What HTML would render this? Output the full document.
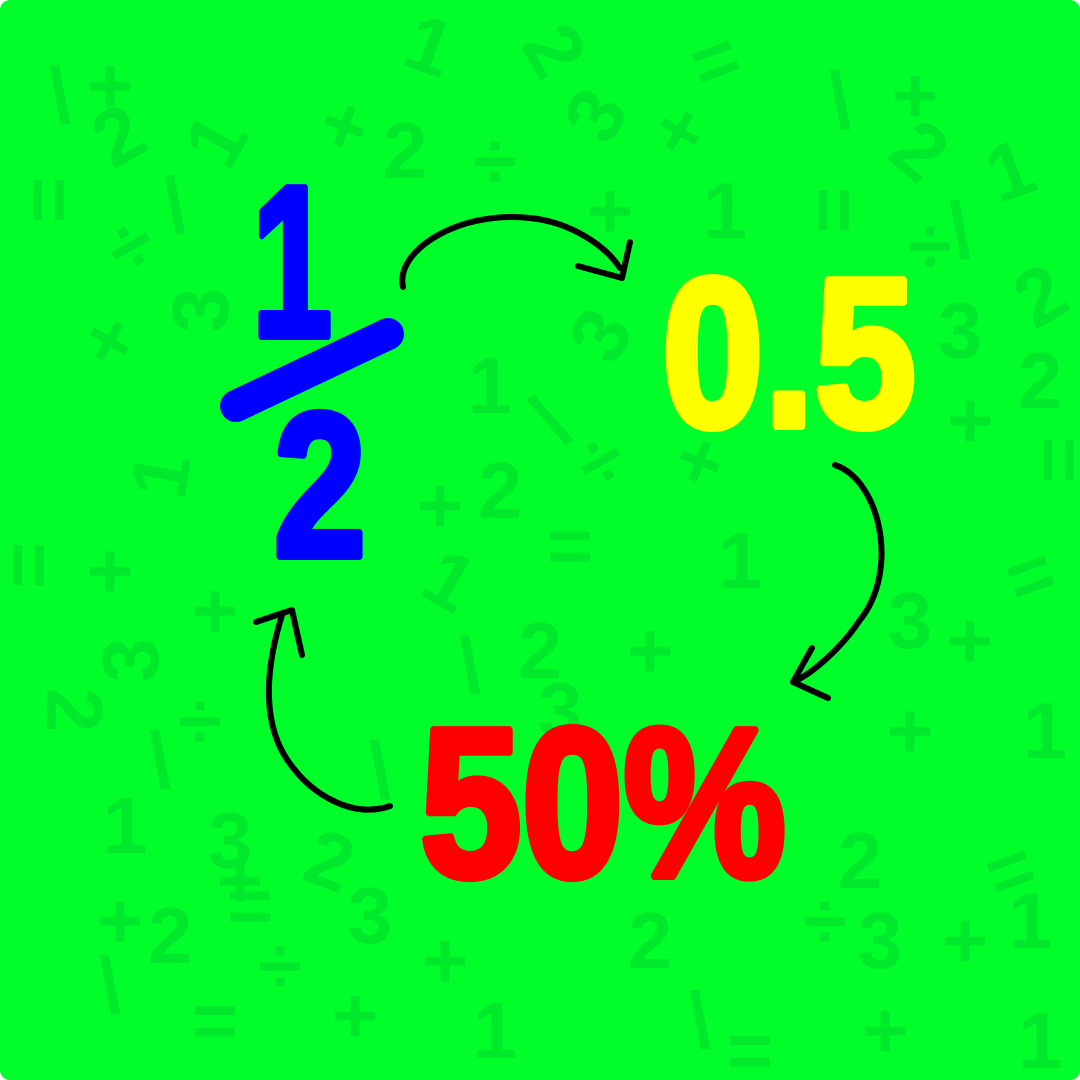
<!DOCTYPE html>
<html><head><meta charset="utf-8"><style>
html,body{margin:0;padding:0;background:#fff;}
svg{display:block;}
</style></head><body>
<svg width="1080" height="1080" viewBox="0 0 1080 1080">
<rect x="0" y="0" width="1080" height="1080" rx="10" fill="#00ff2a"/>
<g id="pattern" fill="#00e82c" font-family="Liberation Sans, sans-serif" font-weight="bold" text-anchor="middle"></g>
<g fill="none" stroke="#000" stroke-width="6" stroke-linecap="round" stroke-linejoin="round">
<path d="M403 287 C395 250 460 210 530 218 C570 222 605 245 620 268 M578 266 L622 278 L630 242"/>
<path d="M835 465 C880 480 900 570 860 620 C840 650 810 675 793 682 M828 698 L793 682 L812 648"/>
<path d="M390 806 C350 820 310 790 295 770 C260 730 265 670 282 615 M256 622 L292 610 L302 655"/>
</g>
<g fill="#0000ff" stroke="#0000ff" stroke-linejoin="round" stroke-width="8">
<text x="292" y="336" font-family="Liberation Sans, sans-serif" font-weight="bold" font-size="215" text-anchor="middle" textLength="80" lengthAdjust="spacingAndGlyphs">1</text>
<line x1="236" y1="406" x2="388" y2="334" stroke="#0000ff" stroke-width="32" stroke-linecap="round"/>
<text x="320" y="556" font-family="Liberation Sans, sans-serif" font-weight="bold" font-size="205" text-anchor="middle" textLength="92" lengthAdjust="spacingAndGlyphs">2</text>
</g>
<text x="662" y="426" fill="#ffff00" stroke="#ffff00" stroke-width="8" stroke-linejoin="round" font-family="Liberation Sans, sans-serif" font-weight="bold" font-size="212" textLength="254" lengthAdjust="spacingAndGlyphs">0.5</text>
<text x="420" y="876" fill="#ff0000" stroke="#ff0000" stroke-width="8" stroke-linejoin="round" font-family="Liberation Sans, sans-serif" font-weight="bold" font-size="212" textLength="366" lengthAdjust="spacingAndGlyphs">50%</text>
</svg>
<script>
const syms = [
["+",110,85,0],["\\",60,95,0],["2",118,135,-30],["1",215,140,-60],["=",50,200,90],["\\",175,205,0],["÷",130,245,-30],["3",200,310,-90],
["1",430,45,20],["2",555,50,60],["=",715,60,-20],["3",595,115,-60],["+",345,125,20],["2",405,150,0],["÷",495,160,0],["+",680,130,30],["\\",840,100,0],
["+",915,95,0],["2",920,150,40],["1",1010,170,-20],["=",835,210,90],["1",725,210,0],["\\",960,230,0],["÷",930,245,0],["+",610,210,0],["2",1040,295,-30],["3",960,330,0],
["+",110,340,30],["3",600,335,-60],["1",490,385,0],["\\",550,420,-30],["÷",600,460,-30],["+",700,460,20],["=",1060,460,90],["+",970,420,0],["2",1040,380,0],
["1",160,475,-80],["+",440,505,0],["2",500,490,0],["=",570,545,0],["+",110,570,0],["=",30,565,90],["1",740,560,0],["1",450,580,30],["=",1030,575,-20],
["+",215,610,0],["3",130,660,-90],["2",540,650,0],["+",650,650,0],["3",910,620,0],["+",970,640,0],["\\",470,665,0],["2",75,710,90],["÷",200,720,0],["\\",160,760,0],
["+",910,730,0],["1",1045,730,0],["3",560,710,0],["\\",380,770,0],["1",125,825,0],["3",230,840,0],["2",330,860,20],["+",240,880,0],["=",250,905,0],["+",120,920,0],
["2",170,935,0],["3",370,915,0],["+",445,960,0],["2",650,940,0],["÷",825,920,0],["\\",700,1020,0],["1",1030,920,0],["=",1010,870,-20],["+",965,940,0],["3",880,940,0],
["÷",280,965,0],["\\",110,985,0],["=",215,1020,0],["+",355,1015,0],["1",495,1030,0],["=",750,1050,0],["+",885,1030,0],["1",1040,1040,0],["2",860,860,0]
];
const g = document.getElementById('pattern');
syms.forEach(s=>{
  const t = document.createElementNS('http://www.w3.org/2000/svg','text');
  
  
  t.setAttribute('x',s[1]); t.setAttribute('y',s[2]+28);
  t.setAttribute('font-size','80');
  t.setAttribute('transform','rotate('+s[3]+' '+s[1]+' '+s[2]+')');
  t.textContent = s[0];
  g.appendChild(t);
});
</script>
</body></html>
